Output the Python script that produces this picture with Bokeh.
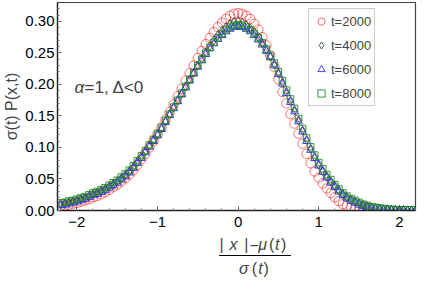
from bokeh.plotting import figure
from bokeh.layouts import column
from bokeh.models import (Legend, LegendItem, Label, SingleIntervalTicker,
                          NumeralTickFormatter, Range1d)
from bokeh.embed import file_html
from bokeh.resources import INLINE

# ---------------- data ----------------
X = [-2.20, -2.15, -2.10, -2.05, -2.00, -1.95, -1.90, -1.85, -1.80, -1.75,
     -1.70, -1.65, -1.60, -1.55, -1.50, -1.45, -1.40, -1.35, -1.30, -1.25,
     -1.20, -1.15, -1.10, -1.05, -1.00, -0.95, -0.90, -0.85, -0.80, -0.75,
     -0.70, -0.65, -0.60, -0.55, -0.50, -0.45, -0.40, -0.35, -0.30, -0.25,
     -0.20, -0.15, -0.10, -0.05, 0.00, 0.05, 0.10, 0.15, 0.20, 0.25,
     0.30, 0.35, 0.40, 0.45, 0.50, 0.55, 0.60, 0.65, 0.70, 0.75,
     0.80, 0.85, 0.90, 0.95, 1.00, 1.05, 1.10, 1.15, 1.20, 1.25,
     1.30, 1.35, 1.40, 1.45, 1.50, 1.55, 1.60, 1.65, 1.70, 1.75,
     1.80, 1.85, 1.90, 1.95, 2.00, 2.05, 2.10, 2.15, 2.20]

y_t2000 = [0.007, 0.008, 0.009, 0.011, 0.012, 0.014, 0.016, 0.018, 0.021, 0.023,
           0.026, 0.029, 0.033, 0.037, 0.041, 0.046, 0.051, 0.057, 0.064, 0.072,
           0.081, 0.090, 0.100, 0.110, 0.121, 0.132, 0.144, 0.156, 0.168, 0.181,
           0.193, 0.206, 0.218, 0.230, 0.242, 0.253, 0.264, 0.274, 0.283, 0.291,
           0.298, 0.304, 0.309, 0.312, 0.313, 0.312, 0.309, 0.304, 0.296, 0.287,
           0.275, 0.262, 0.246, 0.228, 0.208, 0.188, 0.170, 0.153, 0.138, 0.122,
           0.106, 0.090, 0.075, 0.062, 0.052, 0.043, 0.035, 0.028, 0.021, 0.015,
           0.010, 0.007, 0.005, 0.003, 0.002, 0.001, 0.001]

y_t4000 = [0.010, 0.011, 0.013, 0.014, 0.016, 0.018, 0.020, 0.023, 0.026, 0.028,
           0.031, 0.034, 0.038, 0.042, 0.046, 0.051, 0.056, 0.062, 0.069, 0.077,
           0.085, 0.094, 0.103, 0.112, 0.121, 0.131, 0.142, 0.153, 0.164, 0.175,
           0.186, 0.197, 0.208, 0.219, 0.230, 0.241, 0.251, 0.261, 0.270, 0.278,
           0.285, 0.291, 0.296, 0.299, 0.300, 0.298, 0.294, 0.289, 0.283, 0.275,
           0.266, 0.256, 0.245, 0.232, 0.218, 0.203, 0.188, 0.174, 0.159, 0.143,
           0.127, 0.112, 0.098, 0.085, 0.073, 0.063, 0.054, 0.046, 0.039, 0.032,
           0.026, 0.021, 0.017, 0.014, 0.011, 0.009, 0.007, 0.005, 0.004, 0.003,
           0.002, 0.002, 0.001, 0.001, 0.001, 0.001, 0.000, 0.000, 0.000]

y_t6000 = [0.008, 0.009, 0.011, 0.012, 0.014, 0.016, 0.018, 0.021, 0.024, 0.026,
           0.029, 0.032, 0.036, 0.040, 0.044, 0.049, 0.054, 0.060, 0.067, 0.075,
           0.083, 0.092, 0.101, 0.110, 0.119, 0.129, 0.140, 0.151, 0.162, 0.173,
           0.184, 0.195, 0.206, 0.217, 0.228, 0.238, 0.248, 0.257, 0.265, 0.272,
           0.278, 0.284, 0.288, 0.291, 0.292, 0.291, 0.288, 0.284, 0.278, 0.271,
           0.263, 0.253, 0.243, 0.230, 0.216, 0.201, 0.186, 0.172, 0.157, 0.141,
           0.125, 0.110, 0.096, 0.083, 0.071, 0.061, 0.052, 0.044, 0.037, 0.030,
           0.024, 0.019, 0.015, 0.012, 0.009, 0.007, 0.005, 0.004, 0.003, 0.002,
           0.001, 0.001, 0.001, 0.000, 0.000, 0.000, 0.000, 0.000, 0.000]

y_t8000 = [0.012, 0.013, 0.015, 0.016, 0.018, 0.020, 0.022, 0.025, 0.028, 0.030,
           0.033, 0.036, 0.040, 0.044, 0.048, 0.053, 0.058, 0.064, 0.071, 0.079,
           0.087, 0.095, 0.104, 0.113, 0.122, 0.132, 0.143, 0.153, 0.164, 0.175,
           0.186, 0.197, 0.208, 0.219, 0.230, 0.240, 0.250, 0.259, 0.267, 0.274,
           0.281, 0.287, 0.291, 0.294, 0.295, 0.294, 0.291, 0.287, 0.281, 0.274,
           0.266, 0.256, 0.246, 0.234, 0.220, 0.206, 0.191, 0.177, 0.162, 0.146,
           0.130, 0.115, 0.101, 0.088, 0.076, 0.066, 0.057, 0.049, 0.041, 0.034,
           0.028, 0.023, 0.019, 0.016, 0.013, 0.010, 0.008, 0.006, 0.005, 0.004,
           0.003, 0.002, 0.002, 0.001, 0.001, 0.001, 0.001, 0.001, 0.001]

series_labels = ["t=2000", "t=4000", "t=6000", "t=8000"]
x_ticks_labels = {-2: "\u22122", -1: "\u22121", 0: "0", 1: "1", 2: "2"}

# ---------------- layout sizes ----------------
XMIN, XMAX, YMIN, YMAX = -2.24, 2.2, 0.0, 0.33
W = 410
LB, RB, TB, BB = 50, 2, 2, 24
FW = W - LB - RB
FH = 208
H2 = 281 - (TB + FH + BB)
FONT = "Liberation Sans"

p = figure(frame_width=FW, frame_height=FH, x_range=Range1d(XMIN, XMAX),
           y_range=Range1d(YMIN, YMAX), output_backend="svg", toolbar_location=None,
           min_border_left=LB, min_border_right=RB, min_border_top=TB,
           min_border_bottom=BB)
p.xgrid.visible = False
p.ygrid.visible = False
p.outline_line_color = "#444444"
p.outline_line_width = 1.2
p.background_fill_color = "white"
p.border_fill_color = "white"

px_x = FW / (XMAX - XMIN)
px_y = FH / (YMAX - YMIN)

for ax in (p.xaxis[0], p.yaxis[0]):
    ax.axis_line_color = "#222222"
    ax.axis_line_width = 1.3
    ax.major_tick_in = 4
    ax.major_tick_out = 0
    ax.minor_tick_in = 2
    ax.minor_tick_out = 0
    ax.major_tick_line_color = "#555555"
    ax.minor_tick_line_color = "#777777"
    ax.major_label_text_font = FONT
    ax.major_label_text_font_size = "15px"
    ax.major_label_text_color = "black"

p.xaxis.ticker = SingleIntervalTicker(interval=1, num_minor_ticks=5)
p.yaxis.ticker = SingleIntervalTicker(interval=0.05, num_minor_ticks=5)
p.xaxis.major_label_overrides = x_ticks_labels
p.xaxis.major_label_standoff = 6
p.yaxis.formatter = NumeralTickFormatter(format="0.00")
p.yaxis.major_label_standoff = 3
p.yaxis.axis_label = "\u03c3(t) P(x,t)"
p.yaxis.axis_label_text_font = FONT
p.yaxis.axis_label_text_font_style = "normal"
p.yaxis.axis_label_text_font_size = "16px"
p.yaxis.axis_label_standoff = 2

# ---------------- markers ----------------
r1 = p.scatter(X[:len(y_t2000)], y_t2000, marker="circle", size=9.5, fill_color=None,
               line_color="#ff4a4a", line_width=0.8)
r2 = p.scatter(X, y_t4000, marker="diamond", size=9, fill_color=None,
               line_color="#333333", line_width=0.8)
r3 = p.scatter(X, y_t6000, marker="triangle", size=8, fill_color=None,
               line_color="#2a2aff", line_width=0.9)
r4 = p.scatter(X, y_t8000, marker="square", size=6.5, fill_color=None,
               line_color="#1f8a1f", line_width=0.9)

legend = Legend(items=[LegendItem(label=series_labels[0], renderers=[r1]),
                       LegendItem(label=series_labels[1], renderers=[r2]),
                       LegendItem(label=series_labels[2], renderers=[r3]),
                       LegendItem(label=series_labels[3], renderers=[r4])],
                location=(FW - 37 - 70, FH - 8 - 96))
legend.label_text_font = FONT
legend.label_text_font_size = "13px"
legend.label_standoff = 1
legend.glyph_width = 18
legend.glyph_height = 18
legend.label_height = 18
legend.spacing = 6
legend.padding = 3
legend.margin = 0
legend.border_line_color = "#999999"
legend.border_line_width = 1.5
legend.background_fill_color = "white"
legend.background_fill_alpha = 1.0
p.add_layout(legend)

# ---------------- annotation inside the frame ----------------
ann_x = XMIN + 17 / px_x
ann_y = 0.195
p.add_layout(Label(x=ann_x, y=ann_y, text="\u03b1", text_font=FONT, text_font_size="17px",
                   text_font_style="italic", text_baseline="middle", text_align="left"))
p.add_layout(Label(x=ann_x + 10 / px_x, y=ann_y, text="=1, \u0394<0", text_font=FONT,
                   text_font_size="17px", text_baseline="middle", text_align="left"))

# ---------------- x-axis fraction label (separate strip) ----------------
q = figure(width=W, height=H2, x_range=Range1d(0, W), y_range=Range1d(0, H2),
           output_backend="svg", toolbar_location=None, x_axis_type=None,
           y_axis_type=None, min_border=0)
q.outline_line_color = None
q.xgrid.visible = False
q.ygrid.visible = False
q.background_fill_color = "white"
q.border_fill_color = "white"

cx = LB + (0.0 - XMIN) * px_x
num_y = H2 - 10
line_y = H2 - 21
den_y = H2 - 34
num_parts = [("|", -39, "normal"), ("x", -25, "italic"), ("|", -10, "normal"),
             ("\u2212", -1, "normal"), ("\u03bc", 9, "italic"), ("(", 19.5, "normal"),
             ("t", 26, "italic"), (")", 33.5, "normal")]
for txt, off, st in num_parts:
    q.add_layout(Label(x=cx + off, y=num_y, text=txt, text_font=FONT,
                       text_font_size="16px", text_font_style=st,
                       text_align="center", text_baseline="middle"))
den_parts = [("\u03c3", -13, "italic"), ("(", -0.5, "normal"), ("t", 6.5, "italic"),
             (")", 13, "normal")]
for txt, off, st in den_parts:
    q.add_layout(Label(x=cx + off, y=den_y, text=txt, text_font=FONT,
                       text_font_size="16px", text_font_style=st,
                       text_align="center", text_baseline="middle"))
q.segment(x0=[cx - 42], y0=[line_y], x1=[cx + 42], y1=[line_y],
          line_color="black", line_width=1.2)

layout = column(p, q, spacing=0)
open("out.html", "w").write(file_html(layout, INLINE))
